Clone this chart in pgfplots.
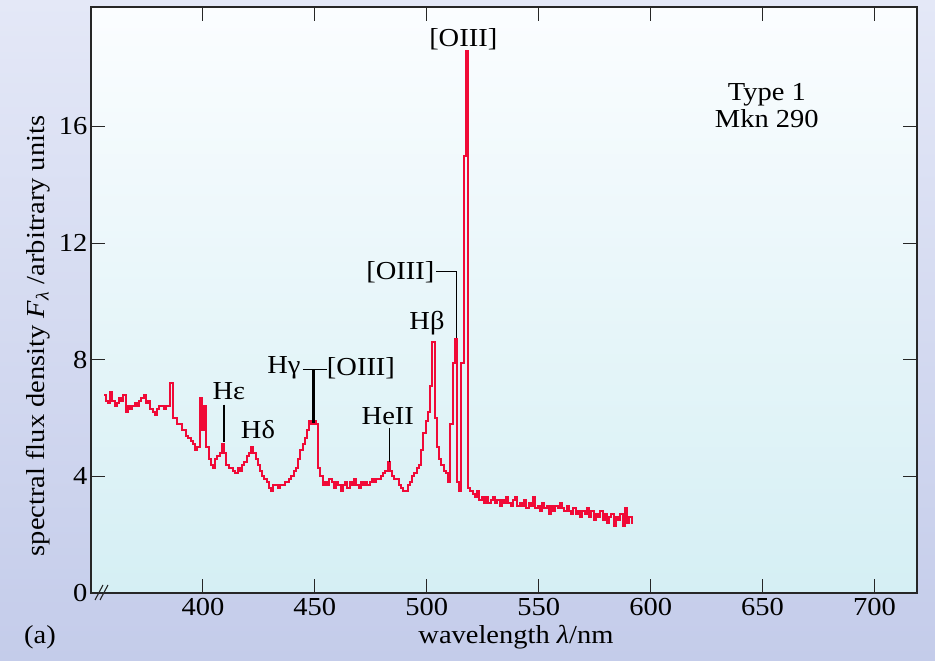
\documentclass[border=0pt]{standalone}
\usepackage{fontspec}
\setmainfont{Liberation Serif}[FakeStretch=1.1]
\usepackage{pgfplots}
\usepackage{pgfplotstable}
\pgfplotsset{compat=1.18}

\definecolor{spec}{RGB}{240,10,55}
\definecolor{bgtop}{RGB}{228,232,247}
\definecolor{bgbot}{RGB}{196,204,234}
\definecolor{axtop}{RGB}{251,253,255}
\definecolor{axbot}{RGB}{213,239,244}
\newcommand\lbl{\fontsize{26}{30}\selectfont}

% Mkn 290 optical spectrum, 1 nm bins
\pgfplotstableread{
nm F
356 6.8
357 6.6
358 6.5
359 6.9
360 6.6
361 6.4
362 6.5
363 6.7
364 6.6
365 6.8
366 6.2
367 6.4
368 6.3
369 6.4
370 6.5
371 6.4
372 6.6
373 6.7
374 6.8
375 6.5
376 6.6
377 6.3
378 6.2
379 6.1
380 6.3
381 6.4
382 6.4
383 6.3
384 6.4
385 6.4
386 7.2
387 6.0
388 6.0
389 5.8
390 5.8
391 5.6
392 5.6
393 5.4
394 5.3
395 5.2
396 5.1
397 4.9
398 5.0
399 6.7
400 5.6
401 6.4
402 5.0
403 4.6
404 4.4
405 4.3
406 4.6
407 4.7
408 4.8
409 5.1
410 4.8
411 4.4
412 4.3
413 4.3
414 4.2
415 4.1
416 4.3
417 4.2
418 4.4
419 4.5
420 4.7
421 4.8
422 5.0
423 4.8
424 4.6
425 4.4
426 4.2
427 4.0
428 3.9
429 3.8
430 3.6
431 3.5
432 3.7
433 3.7
434 3.6
435 3.7
436 3.7
437 3.8
438 3.8
439 3.9
440 4.0
441 4.2
442 4.3
443 4.6
444 4.9
445 5.1
446 5.3
447 5.6
448 5.9
449 5.8
450 5.9
451 5.8
452 4.3
453 4.0
454 3.7
455 3.8
456 3.7
457 3.9
458 3.8
459 3.6
460 3.8
461 3.7
462 3.5
463 3.7
464 3.8
465 3.6
466 3.8
467 3.7
468 3.9
469 3.7
470 3.6
471 3.8
472 3.7
473 3.8
474 3.7
475 3.8
476 3.9
477 3.8
478 3.9
479 3.9
480 4.0
481 4.1
482 4.2
483 4.5
484 4.2
485 4.0
486 3.9
487 3.9
488 3.7
489 3.6
490 3.5
491 3.5
492 3.7
493 3.8
494 4.0
495 4.1
496 4.3
497 4.4
498 4.9
499 5.5
500 5.9
501 6.2
502 7.1
503 8.6
504 6.0
505 5.0
506 4.6
507 4.4
508 4.2
509 4.1
510 3.8
511 5.8
512 7.9
513 8.7
514 3.8
515 3.5
516 7.9
517 15.0
518 18.6
519 3.6
520 3.5
521 3.4
522 3.3
523 3.5
524 3.2
525 3.3
526 3.1
527 3.3
528 3.1
529 3.2
530 3.3
531 3.1
532 3.2
533 3.0
534 3.2
535 3.1
536 3.3
537 3.1
538 3.0
539 3.2
540 3.3
541 3.0
542 3.1
543 3.0
544 3.2
545 2.9
546 3.1
547 3.0
548 3.3
549 2.9
550 3.0
551 2.8
552 3.1
553 2.9
554 3.0
555 2.7
556 3.0
557 2.8
558 3.0
559 2.9
560 3.1
561 2.9
562 2.8
563 3.0
564 2.8
565 2.7
566 2.9
567 2.7
568 2.8
569 2.6
570 2.8
571 2.7
572 2.9
573 2.6
574 2.8
575 2.5
576 2.7
577 2.6
578 2.8
579 2.5
580 2.7
581 2.4
582 2.6
583 2.7
584 2.3
585 2.6
586 2.5
587 2.7
588 2.3
589 2.9
590 2.4
591 2.6
592 2.4
}\spectrum

\begin{document}
\begin{tikzpicture}[x=1bp,y=1bp]
\shade[top color=bgtop,bottom color=bgbot] (0,0) rectangle (935,661);
\begin{axis}[
  at={(91bp,68bp)}, anchor=south west,
  scale only axis, width=826bp, height=586bp,
  xmin=350, xmax=719, ymin=0, ymax=20.1,
  xtick={400,450,...,700}, ytick={0,4,...,16},
  major tick length=14bp,
  tick style={line width=1.1bp, black!85},
  axis line style={line width=1.3bp, black!85},
  axis background/.style={shade, top color=axtop, bottom color=axbot},
  tick label style={font=\lbl},
  xticklabel style={yshift=-2bp},
  /pgf/number format/assume math mode=true,
  clip=false,
]
\addplot[const plot mark mid, spec, line width=2bp, line join=miter] table[x=nm, y=F] {\spectrum};

% line identifications
\draw[line width=1.2bp] (axis cs:409.4,6.46) -- (axis cs:409.4,5.19);
\node[font=\lbl] at (axis cs:411.6,6.94) {Hε};
\node[font=\lbl] at (axis cs:424.6,5.6) {Hδ};
\node[font=\lbl] at (axis cs:436.2,7.72) {Hγ};
\draw[line width=1.2bp] (axis cs:444.7,7.66) -- (axis cs:455.4,7.66);
\draw[line width=3bp] (axis cs:449.2,7.66) -- (axis cs:449.2,5.84);
\node[font=\lbl] at (axis cs:470.6,7.72) {[OIII]};
\node[font=\lbl] at (axis cs:482.6,6.08) {HeII};
\draw[line width=1.2bp] (axis cs:483.5,5.67) -- (axis cs:483.5,4.5);
\node[font=\lbl] at (axis cs:500.1,9.24) {Hβ};
\node[font=\lbl] at (axis cs:488.2,11.0) {[OIII]};
\draw[line width=1.2bp] (axis cs:504.1,11.03) -- (axis cs:513.3,11.03) -- (axis cs:513.3,8.76);
\node[font=\lbl, anchor=south, inner sep=1bp] at (axis cs:516.3,18.6) {[OIII]};
\node[font=\lbl, align=center] at (axis cs:651.9,16.72) {Type 1\\[-3bp]Mkn 290};
\end{axis}
% axis break on the wavelength axis
\draw[line width=1.1bp, black!85] (95,61) -- (103,76);
\draw[line width=1.1bp, black!85] (100,61) -- (108,76);
\node[font=\lbl] at (516,24) {wavelength \textit{λ}/nm};
\node[font=\lbl] at (40,24) {(a)};
\node[font=\lbl, rotate=90] at (38,325) {spectral flux density \textit{F}\textsubscript{\textit{λ}} /arbitrary units};
\end{tikzpicture}
\end{document}
